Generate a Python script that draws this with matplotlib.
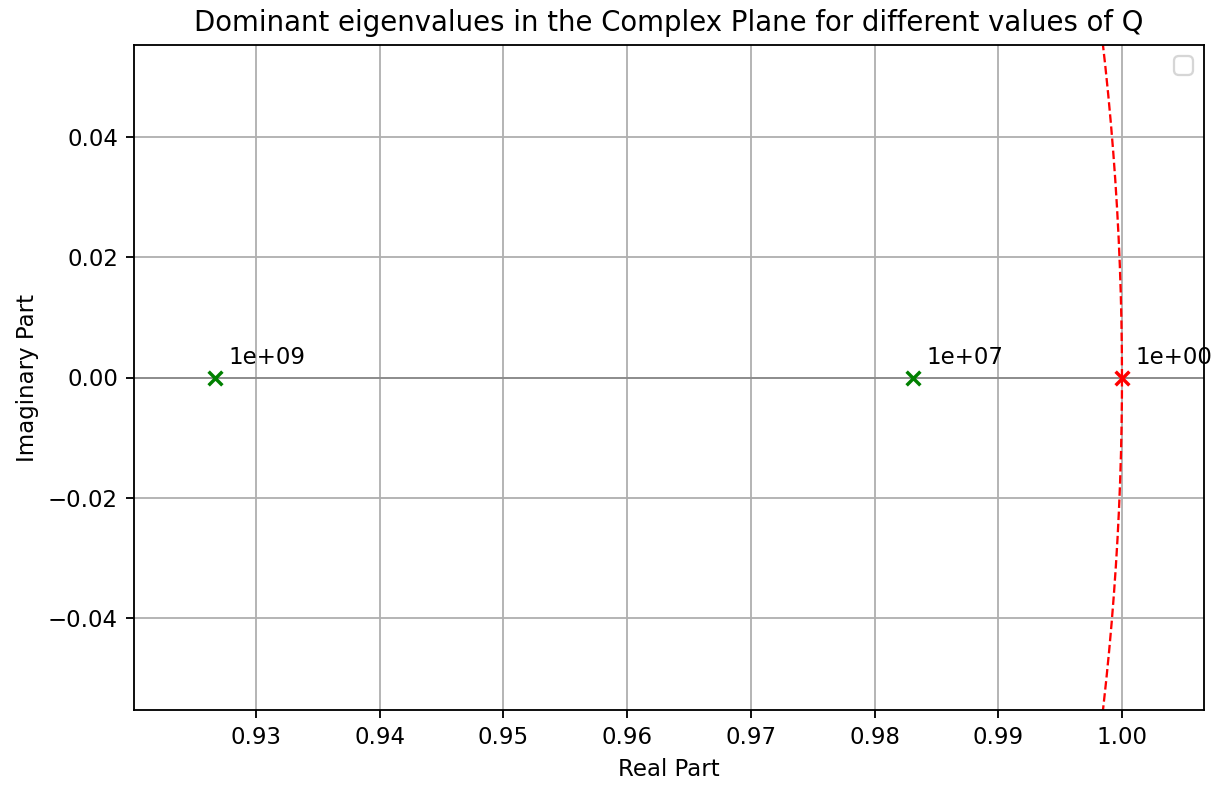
import numpy as np
import matplotlib
matplotlib.use("Agg")
import matplotlib.pyplot as plt

# dominant eigenvalues
q_values = [1e9, 1e7, 1e0]
eig_real = [0.92669, 0.98311, 1.0]
eig_imag = [0.0, 0.0, 0.0]
colors = ['green', 'green', 'red']

DPI = 165
fig = plt.figure(figsize=(1221/DPI, 785/DPI), dpi=DPI)
ax = fig.add_axes([134/1221, 1 - 710/785, (1204-134)/1221, (710-45)/785])

# unit circle
theta = np.linspace(0, 2*np.pi, 4000)
ax.plot(np.cos(theta), np.sin(theta), 'r--', linewidth=1)

ax.axhline(0, color='gray', linewidth=0.8, alpha=0.8)

for q, re, im, c in zip(q_values, eig_real, eig_imag, colors):
    ax.scatter(re, im, color=c, marker='x', zorder=3)
    ax.annotate(f'{q:.0e}', (re, im), textcoords='offset points', xytext=(6, 6))

ax.set_xlim(0.92014, 1.00663)
ax.set_ylim(-0.0554, 0.0554)
ax.set_xlabel('Real Part')
ax.set_ylabel('Imaginary Part')
ax.set_title('Dominant eigenvalues in the Complex Plane for different values of Q')
ax.grid(True)
ax.legend()

fig.savefig('out.png', dpi=DPI)
